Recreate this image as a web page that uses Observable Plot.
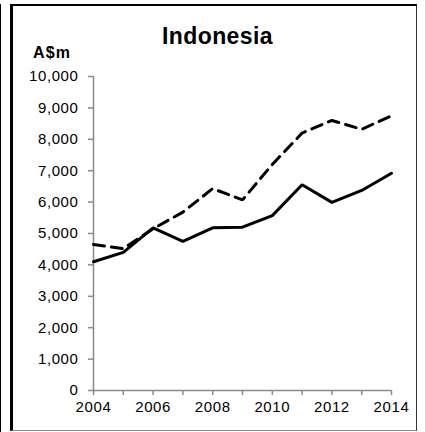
<!DOCTYPE html>
<html>
<head>
<meta charset="utf-8">
<script src="https://cdn.jsdelivr.net/npm/d3@7"></script>
<script src="https://cdn.jsdelivr.net/npm/@observablehq/plot@0.6"></script>
<style>
  body { margin: 0; background: #fff; }
  #wrap { position: relative; width: 425px; height: 432px; overflow: hidden; background: #fff; font-family: Arial, "Liberation Sans", sans-serif; }
  #edge { position: absolute; left: 0; top: 4px; width: 1px; height: 428px; background: #000; }
  #frame { position: absolute; left: 10px; top: 4px; width: 403px; height: 424px; border-left: 3px solid #000; border-top: 2px solid #000; border-right: 1px solid #333; border-bottom: 1px solid #888; }
  #title { position: absolute; left: 0; width: 435px; top: 25px; text-align: center; font-weight: bold; font-size: 23px; letter-spacing: 0.4px; line-height: 1; color: #000; }
  #unit { position: absolute; left: 33px; top: 45px; font-weight: bold; font-size: 16px; letter-spacing: 1.2px; line-height: 1; color: #000; }
  #chart { position: absolute; left: 0; top: 0; }
</style>
</head>
<body>
<div id="wrap">
  <div id="edge"></div>
  <div id="frame"></div>
  <div id="chart"></div>
  <div id="title">Indonesia</div>
  <div id="unit">A$m</div>
</div>
<script>
const years = [2004, 2005, 2006, 2007, 2008, 2009, 2010, 2011, 2012, 2013, 2014];
const solidValues = [4100, 4400, 5180, 4750, 5180, 5200, 5570, 6550, 5990, 6370, 6920];
const dashedValues = [4650, 4520, 5150, 5680, 6430, 6070, 7200, 8200, 8600, 8320, 8750];
const yTicks = [0, 1000, 2000, 3000, 4000, 5000, 6000, 7000, 8000, 9000, 10000];
const xLabelYears = [2004, 2006, 2008, 2010, 2012, 2014];

const solid = years.map((y, i) => ({year: y, value: solidValues[i]}));
const dashed = years.map((y, i) => ({year: y, value: dashedValues[i]}));

const axisGray = "#8a8a8a";

const plot = Plot.plot({
  width: 425,
  height: 432,
  marginLeft: 93,
  marginRight: 34,
  marginTop: 76,
  marginBottom: 42,
  style: {background: "transparent", fontFamily: "Arial, 'Liberation Sans', sans-serif", fontSize: "15px", color: "#000", overflow: "visible", letterSpacing: "0.6px"},
  x: {domain: [2004, 2014], label: null},
  y: {domain: [0, 10000], label: null},
  marks: [
    Plot.axisY({ticks: yTicks, tickFormat: d3.format(","), tickSize: 5, tickPadding: 10, stroke: axisGray, fill: "#000", fontSize: 15, strokeWidth: 1.5, label: null}),
    Plot.axisX({ticks: years, tickFormat: d => xLabelYears.includes(d) ? String(d) : "", tickSize: 5, tickPadding: 6, stroke: axisGray, fill: "#000", fontSize: 15, strokeWidth: 1.5, label: null}),
    Plot.ruleX([2004], {stroke: axisGray, strokeWidth: 1.5}),
    Plot.ruleY([0], {stroke: axisGray, strokeWidth: 1.5}),
    Plot.line(dashed, {x: "year", y: "value", stroke: "#000", strokeWidth: 3, strokeDasharray: "11,7", strokeLinejoin: "miter"}),
    Plot.line(solid, {x: "year", y: "value", stroke: "#000", strokeWidth: 3, strokeLinejoin: "miter"})
  ]
});
document.getElementById("chart").appendChild(plot);
</script>
</body>
</html>
